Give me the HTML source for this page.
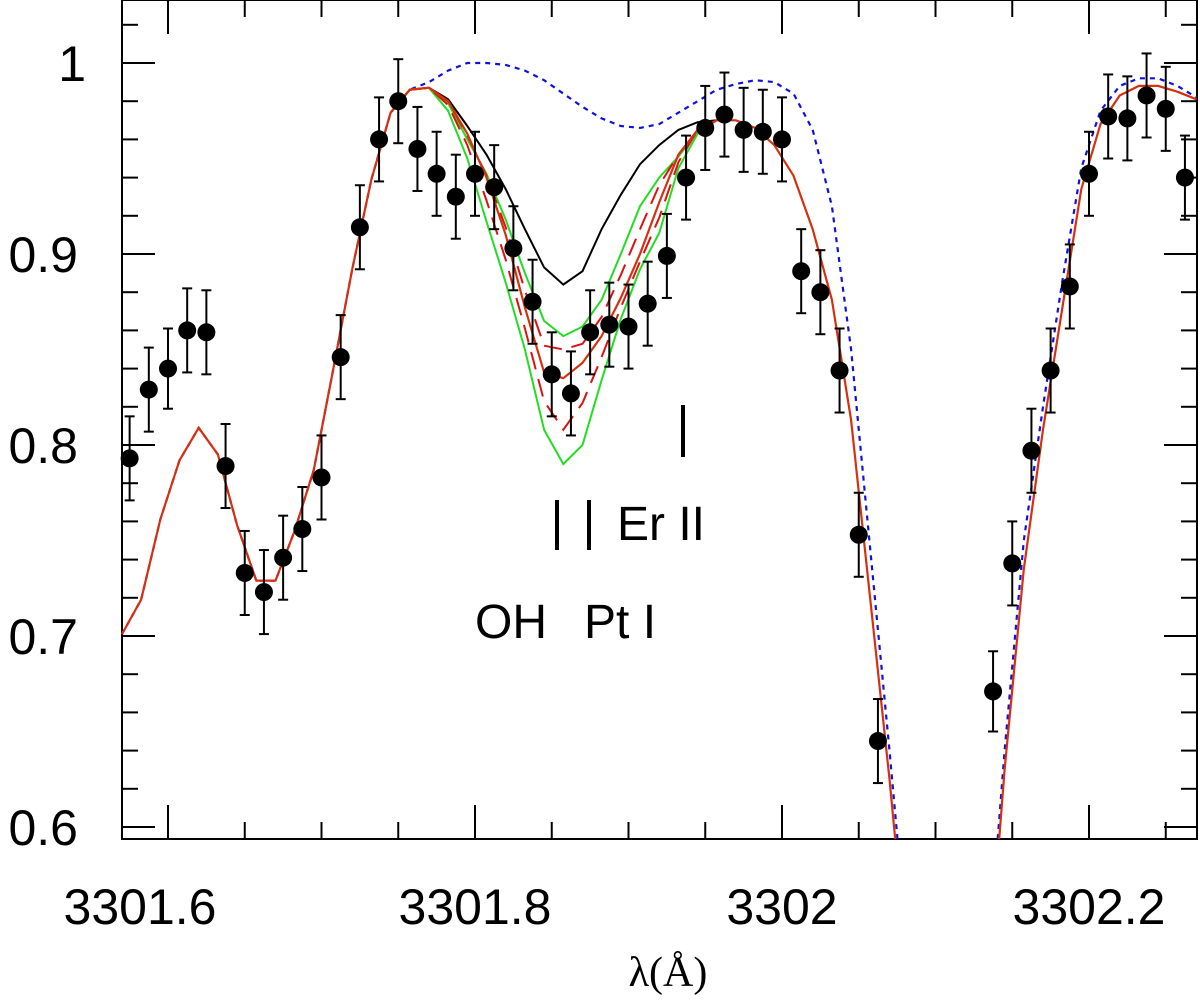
<!DOCTYPE html>
<html><head><meta charset="utf-8"><style>
html,body{margin:0;padding:0;background:#fff;overflow:hidden;width:1200px;height:1003px;position:relative;}
svg{display:block;position:absolute;left:0;top:0;}
text{font-family:"Liberation Sans",Arial,sans-serif;fill:#000;}
</style></head><body>
<svg id="chart" width="1200" height="1003" viewBox="0 0 1200 1003" xmlns="http://www.w3.org/2000/svg">
<g id="axes"></g>
<g id="curves"></g>
<g id="points"></g>
<g>
<text x="475" y="638" font-size="48">OH</text>
<text x="584" y="638" font-size="48">Pt I</text>
<line x1="557" y1="500" x2="557" y2="550" stroke="#000" stroke-width="4"/>
<line x1="589" y1="500" x2="589" y2="550" stroke="#000" stroke-width="4"/>
<text x="617" y="540" font-size="48">Er II</text>
<line x1="683" y1="405" x2="683" y2="457" stroke="#000" stroke-width="4"/>
</g>
<text x="668" y="986" font-size="42" text-anchor="middle" style="font-family:'Liberation Serif',serif">λ(Å)</text>
</svg>
<script>
// observed data
const obsWave = [3301.575,3301.5875,3301.6,3301.6125,3301.625,3301.6375,3301.65,3301.6625,3301.675,3301.6875,3301.7,3301.7125,3301.725,3301.7375,3301.75,3301.7625,3301.775,3301.7875,3301.8,3301.8125,3301.825,3301.8375,3301.85,3301.8625,3301.875,3301.8875,3301.9,3301.9125,3301.925,3301.9375,3301.95,3301.9625,3301.975,3301.9875,3302.0,3302.0125,3302.025,3302.0375,3302.05,3302.0625,3302.1375,3302.15,3302.1625,3302.175,3302.1875,3302.2,3302.2125,3302.225,3302.2375,3302.25,3302.2625];
const obsFlux = [0.793,0.829,0.840,0.860,0.859,0.789,0.733,0.723,0.741,0.756,0.783,0.846,0.914,0.960,0.980,0.955,0.942,0.930,0.942,0.935,0.903,0.875,0.837,0.827,0.859,0.863,0.862,0.874,0.899,0.940,0.966,0.973,0.965,0.964,0.960,0.891,0.880,0.839,0.753,0.645,0.671,0.738,0.797,0.839,0.883,0.942,0.972,0.971,0.983,0.976,0.940];
const obsErr = [0.022,0.022,0.021,0.022,0.022,0.022,0.022,0.022,0.022,0.022,0.022,0.022,0.022,0.022,0.022,0.022,0.022,0.022,0.022,0.022,0.022,0.022,0.022,0.022,0.022,0.022,0.022,0.022,0.022,0.022,0.022,0.022,0.022,0.022,0.022,0.022,0.022,0.022,0.022,0.022,0.021,0.022,0.022,0.022,0.022,0.022,0.022,0.022,0.022,0.022,0.022];
// model grid
const gridStart = 3301.57;
const gridStep = 0.0125;
const baseFlux = [0.701,0.719,0.761,0.792,0.809,0.795,0.758,0.729,0.729,0.755,0.787,0.839,0.892,0.939,0.974,0.986,0.987,0.980,0.963,0.940,0.910,0.872,0.838,0.835,0.843,0.857,0.877,0.900,0.927,0.952,0.965,0.970,0.970,0.966,0.957,0.941,0.913,0.876,0.813,0.719,0.625,0.52,0.45,0.42,0.43,0.50,0.630,0.735,0.808,0.871,0.934,0.968,0.983,0.988,0.988,0.985,0.981];
const noLineFlux = [0.701,0.719,0.761,0.792,0.809,0.795,0.758,0.729,0.729,0.755,0.787,0.839,0.892,0.939,0.974,0.986,0.990,0.996,1.0,1.0,0.999,0.996,0.991,0.984,0.977,0.971,0.967,0.966,0.968,0.974,0.980,0.986,0.989,0.991,0.990,0.984,0.965,0.925,0.850,0.745,0.640,0.53,0.45,0.42,0.43,0.51,0.640,0.750,0.820,0.885,0.945,0.975,0.988,0.992,0.992,0.988,0.982];
// dip variants, grid index 14..31
const dipStartIndex = 14;
const noPtFlux = [0.974,0.986,0.987,0.981,0.967,0.952,0.934,0.913,0.893,0.884,0.891,0.913,0.931,0.947,0.957,0.965,0.969,0.970];
const greenHighFlux = [0.974,0.986,0.987,0.979,0.960,0.942,0.918,0.890,0.865,0.857,0.862,0.876,0.900,0.925,0.940,0.951,0.964,0.970];
const greenLowFlux = [0.974,0.986,0.987,0.975,0.950,0.917,0.885,0.850,0.808,0.790,0.800,0.834,0.866,0.892,0.911,0.945,0.963,0.970];
const dashHighFlux = [0.974,0.986,0.987,0.980,0.962,0.941,0.914,0.881,0.852,0.850,0.853,0.867,0.889,0.913,0.936,0.952,0.965,0.970];
const dashLowFlux = [0.974,0.986,0.987,0.978,0.957,0.928,0.897,0.861,0.823,0.808,0.822,0.846,0.872,0.896,0.919,0.948,0.965,0.970];
// ticks
const xTickLabels = ["3301.6","3301.8","3302","3302.2"];
const xTickValues = [3301.6,3301.8,3302.0,3302.2];
const yTickLabels = ["0.6","0.7","0.8","0.9","1"];
const yTickValues = [0.6,0.7,0.8,0.9,1.0];

const NS="http://www.w3.org/2000/svg";
const X0=122,X1=1197,Y0=0,Y1=839;
function xs(w){return 168+(w-3301.6)*1535;}
function ys(v){return 63+(1-v)*1910;}
function mk(tag,attrs,parent){const e=document.createElementNS(NS,tag);for(const k in attrs)e.setAttribute(k,attrs[k]);parent.appendChild(e);return e;}

const axes=document.getElementById('axes');
const frame=mk('rect',{x:X0,y:Y0,width:X1-X0,height:Y1-Y0,fill:'none',stroke:'#000','stroke-width':2},axes);


for(let k=0;k<=14;k++){
  const w=3301.55+k*0.05; const x=xs(w); if(x<X0||x>X1) continue;
  const major=Math.abs(((w-3301.6)/0.2)-Math.round((w-3301.6)/0.2))<1e-6;
  const L=major?34:17;
  const t1=mk('line',{x1:x,y1:Y1,x2:x,y2:Y1-L,stroke:'#000','stroke-width':2},axes);
  
  
  const t2=mk('line',{x1:x,y1:Y0,x2:x,y2:Y0+L,stroke:'#000','stroke-width':2},axes);
  
  
}
xTickValues.forEach((v,i)=>{
  let cx=xs(v); if(i===0) cx=140;
  const t=mk('text',{x:cx,y:924,'font-size':50,'text-anchor':'middle'},axes);
  t.textContent=xTickLabels[i];
  
  
});
for(let k=0;k<=22;k++){
  const v=0.6+k*0.02; const y=ys(v); if(y<Y0||y>Y1) continue;
  const major=(k%5===0);
  const L=major?33:16;
  const t1=mk('line',{x1:X0,y1:y,x2:X0+L,y2:y,stroke:'#000','stroke-width':2},axes);
  
  
  const t2=mk('line',{x1:X1,y1:y,x2:X1-L,y2:y,stroke:'#000','stroke-width':2},axes);
  
  
}
yTickValues.forEach((v,i)=>{
  const t=mk('text',{x:i===4?86:78,y:ys(v)+18,'font-size':50,'text-anchor':'end'},axes);
  t.textContent=yTickLabels[i];
  
  
});

const curves=document.getElementById('curves');
// build path, clipping segments at the bottom axis geometrically
function pathFrom(arr,startIdx){
  const P=arr.map((v,i)=>[xs(gridStart+(startIdx+i)*gridStep),ys(v)]);
  let d='',pen=false;
  for(let i=0;i<P.length;i++){
    const [x,y]=P[i];
    if(y<=Y1){
      if(!pen){
        if(i>0&&P[i-1][1]>Y1){const [px,py]=P[i-1];const t=(Y1-py)/(y-py);d+='M'+(px+t*(x-px)).toFixed(1)+','+Y1+' L'+x.toFixed(1)+','+y.toFixed(1)+' ';}
        else d+='M'+x.toFixed(1)+','+y.toFixed(1)+' ';
        pen=true;
      } else d+='L'+x.toFixed(1)+','+y.toFixed(1)+' ';
    } else if(pen){
      const [px,py]=P[i-1];const t=(Y1-py)/(y-py);
      d+='L'+(px+t*(x-px)).toFixed(1)+','+Y1+' ';
      pen=false;
    }
  }
  return d;
}
const pBlue=mk('path',{d:pathFrom(noLineFlux,0),fill:'none',stroke:'#1010e0','stroke-width':2.2,'stroke-dasharray':'5,5'},curves);


const pBlack=mk('path',{d:pathFrom(noPtFlux,dipStartIndex),fill:'none',stroke:'#000','stroke-width':2},curves);


const pG1=mk('path',{d:pathFrom(greenHighFlux,dipStartIndex),fill:'none',stroke:'#22dd22','stroke-width':2},curves);


const pG2=mk('path',{d:pathFrom(greenLowFlux,dipStartIndex),fill:'none',stroke:'#22dd22','stroke-width':2},curves);


const pD1=mk('path',{d:pathFrom(dashHighFlux,dipStartIndex),fill:'none',stroke:'#e01010','stroke-width':2,'stroke-dasharray':'18,10'},curves);


const pD2=mk('path',{d:pathFrom(dashLowFlux,dipStartIndex),fill:'none',stroke:'#e01010','stroke-width':2,'stroke-dasharray':'18,10'},curves);


const pRed=mk('path',{d:pathFrom(baseFlux,0),fill:'none',stroke:'#d63010','stroke-width':2.2},curves);



const pts=document.getElementById('points');
obsWave.forEach((w,i)=>{
  const x=xs(w), y=ys(obsFlux[i]), yt=ys(obsFlux[i]+obsErr[i]), yb=ys(obsFlux[i]-obsErr[i]);
  const g=mk('g',{},pts);
  
  
  mk('line',{x1:x,y1:yt,x2:x,y2:yb,stroke:'#000','stroke-width':2},g);
  mk('line',{x1:x-5,y1:yt,x2:x+5,y2:yt,stroke:'#000','stroke-width':2},g);
  mk('line',{x1:x-5,y1:yb,x2:x+5,y2:yb,stroke:'#000','stroke-width':2},g);
  mk('circle',{cx:x,cy:y,r:9,fill:'#000'},g);
});
</script>
</body></html>
